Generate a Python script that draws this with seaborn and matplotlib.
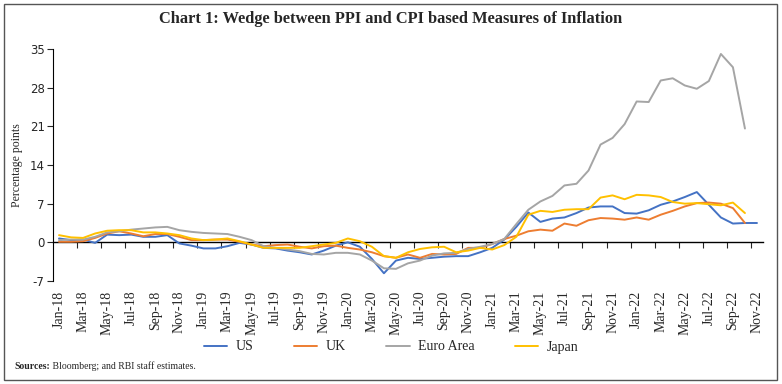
import numpy as np
import pandas as pd
import matplotlib
matplotlib.use('Agg')
import matplotlib.pyplot as plt
import seaborn as sns
from matplotlib.patches import Rectangle

# monthly categories Jan-18 .. Nov-22
months = pd.date_range('2018-01-01', '2022-11-01', freq='MS').strftime('%b-%y').tolist()

# wedge between PPI and CPI inflation (percentage points)
us = [0.7, 0.4, 0.5, -0.1, 1.4, 1.3, 1.4, 1.0, 1.0, 1.3, -0.2, -0.6,
      -1.1, -1.1, -0.7, -0.1, -0.4, -1.0, -1.1, -1.5, -1.8, -2.2, -1.5, -0.6,
      0.0, -0.8, -3.0, -5.6, -3.3, -2.8, -3.0, -2.8, -2.6, -2.5, -2.5, -1.8,
      -1.0, 0.5, 2.8, 5.4, 3.7, 4.3, 4.5, 5.3, 6.3, 6.5, 6.5, 5.3,
      5.2, 5.8, 6.8, 7.4, 8.2, 9.1, 6.8, 4.5, 3.4, 3.5, 3.5]
uk = [0.1, 0.1, 0.2, 0.8, 1.6, 2.0, 1.6, 1.1, 1.5, 1.5, 1.0, 0.4,
      0.4, 0.5, 0.5, 0.1, -0.4, -0.7, -0.5, -0.4, -0.8, -1.1, -0.7, -0.6,
      -1.0, -1.3, -1.8, -2.5, -2.8, -2.2, -2.8, -2.1, -2.2, -2.1, -1.0, -1.0,
      -0.3, 0.6, 1.2, 2.0, 2.3, 2.1, 3.4, 3.0, 4.0, 4.4, 4.3, 4.1,
      4.5, 4.1, 5.0, 5.7, 6.5, 7.1, 7.2, 7.0, 6.2, 3.5, np.nan]
euro = [0.4, 0.5, 0.5, 1.0, 1.8, 2.0, 2.3, 2.5, 2.7, 2.8, 2.2, 1.9,
        1.7, 1.6, 1.5, 1.0, 0.4, -0.7, -1.0, -1.3, -1.6, -2.1, -2.2, -1.9,
        -1.9, -2.2, -3.3, -4.7, -4.8, -3.8, -3.3, -2.4, -2.0, -1.9, -1.2, -0.8,
        -0.3, 0.6, 3.3, 5.9, 7.4, 8.4, 10.3, 10.6, 13.0, 17.7, 18.9, 21.4,
        25.5, 25.4, 29.3, 29.7, 28.4, 27.8, 29.2, 34.1, 31.7, 20.6, np.nan]
japan = [1.3, 0.9, 0.8, 1.6, 2.1, 2.2, 2.2, 1.8, 1.8, 1.6, 1.3, 0.7,
         0.4, 0.5, 0.7, 0.2, -0.4, -1.0, -1.0, -1.0, -1.0, -0.7, -0.4, -0.1,
         0.7, 0.2, -0.8, -2.5, -2.8, -1.8, -1.2, -0.9, -0.8, -1.8, -1.5, -1.0,
         -1.3, -0.5, 1.0, 5.0, 5.7, 5.5, 5.9, 6.0, 6.0, 8.1, 8.5, 7.8,
         8.6, 8.5, 8.2, 7.3, 7.0, 7.1, 6.9, 6.7, 7.2, 5.3, np.nan]

countries = ['US', 'UK', 'Euro Area', 'Japan']
colors = ['#4472C4', '#ED7D31', '#A5A5A5', '#FFC000']

df = pd.DataFrame({'idx': range(len(months)), 'US': us, 'UK': uk,
                   'Euro Area': euro, 'Japan': japan})
long_df = df.melt(id_vars='idx', var_name='Country', value_name='Wedge').dropna()

sns.set_style('white')
plt.rcParams['font.family'] = ['Liberation Serif', 'DejaVu Serif']
plt.rcParams['axes.unicode_minus'] = False

fig = plt.figure(figsize=(7.82, 3.84), dpi=100)
ax = fig.add_axes([53 / 782, 1 - 281 / 384, 710 / 782, 232 / 384])

sns.lineplot(data=long_df, x='idx', y='Wedge', hue='Country', hue_order=countries,
             palette=colors, linewidth=1.4, ax=ax, legend=False)

# axes
ax.set_xlim(-0.5, len(months) - 0.5)
ax.set_ylim(-7, 35)
ax.set_yticks(range(-7, 36, 7))
for lbl in ax.get_yticklabels():
    lbl.set_fontfamily('DejaVu Sans')
ax.tick_params(axis='y', length=4, width=0.8, pad=2, labelsize=8.5, left=True)
ax.set_xticks(range(0, len(months), 2))
ax.set_xticklabels(months[::2], rotation=90, fontsize=10)
ax.tick_params(axis='x', length=0, pad=7)
ax.set_xlabel('')
ax.set_ylabel('Percentage points', fontsize=8.5, va='center')
ax.yaxis.set_label_coords(-36 / 710, 0.5)

for side in ['top', 'right', 'bottom']:
    ax.spines[side].set_visible(False)
ax.spines['left'].set_color('black')
ax.spines['left'].set_linewidth(0.8)

# zero line with tick marks between categories
zero = ax.secondary_xaxis(7 / 42)
zero.set_xticks(np.arange(1.5, len(months) - 1, 2))
zero.tick_params(length=4, width=0.8, direction='out', labelbottom=False)
zero.spines['bottom'].set_linewidth(1.0)
zero.spines['bottom'].set_color('black')

# title, legend, source
fig.text(0.5, 1 - 19 / 384, 'Chart 1: Wedge between PPI and CPI based Measures of Inflation',
         ha='center', va='center', fontsize=11.8, fontweight='bold')

fig.legend(ax.lines[:4], countries, loc='center', bbox_to_anchor=(0.5, 1 - 347 / 384),
           ncol=4, frameon=False, fontsize=10, handlelength=1.7, handletextpad=0.6,
           columnspacing=2.9)

src_y = 1 - 369 / 384
src = fig.text(14 / 782, src_y, 'Sources:', fontsize=7, fontweight='bold',
               ha='left', va='baseline')
fig.canvas.draw()
bb = src.get_window_extent()
fig.text(bb.x1 / fig.bbox.width, src_y, ' Bloomberg; and RBI staff estimates.',
         fontsize=7, ha='left', va='baseline')

fig.patches.append(Rectangle((4 / 782, 4 / 384), 773 / 782, 376 / 384, fill=False,
                             transform=fig.transFigure, linewidth=1.0, edgecolor='#555555'))

fig.savefig('out.png', dpi=100)
